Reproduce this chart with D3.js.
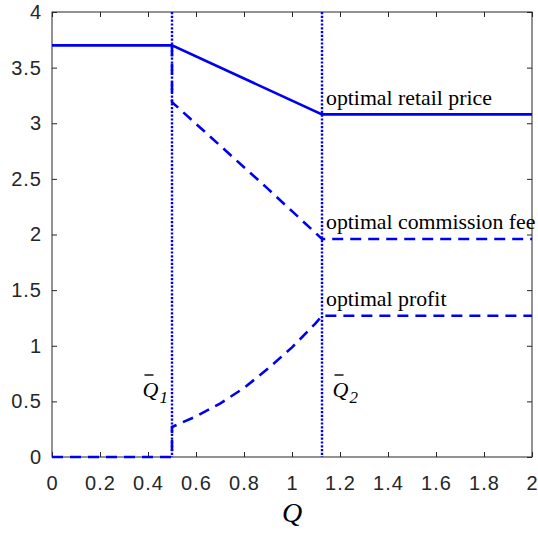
<!DOCTYPE html>
<html>
<head>
<meta charset="utf-8">
<script src="https://cdn.jsdelivr.net/npm/d3@7"></script>
<style>
  html, body { margin: 0; padding: 0; background: #fff; }
  svg { display: block; }
</style>
</head>
<body>
<svg id="chart" width="538" height="539"></svg>
<script>
// Optimal decisions as a function of the capacity Q
const retailQ     = [0, 0.5, 1.125, 2];
const retailPrice = [3.7, 3.7, 3.08, 3.08];

const commissionQ   = [0.5, 0.5, 0.6, 0.7, 0.8, 0.9, 1.0, 1.1, 1.125, 2];
const commissionFee = [3.7, 3.19, 2.995, 2.80, 2.605, 2.41, 2.21, 2.01, 1.96, 1.96];

const profitQ   = [0, 0.5, 0.5, 0.6, 0.7, 0.8, 0.9, 1.0, 1.1, 1.125, 2];
const profitVal = [0, 0, 0.27, 0.365, 0.48, 0.62, 0.795, 0.985, 1.205, 1.27, 1.27];

// Threshold capacities
const thresholds = [0.5, 1.125];
const thresholdSubs = ["1", "2"];

const xTicks = [0, 0.2, 0.4, 0.6, 0.8, 1, 1.2, 1.4, 1.6, 1.8, 2];
const yTicks = [0, 0.5, 1, 1.5, 2, 2.5, 3, 3.5, 4];

const curveLabels = ["optimal retail price", "optimal commission fee", "optimal profit"];
const curveLabelY = [3.08, 1.96, 1.27];

const svg = d3.select("#chart");
const W = 538, H = 539;
const m = { left: 52, right: 6, top: 12, bottom: 82 };

svg.append("rect").attr("width", W).attr("height", H).attr("fill", "#fff");

const x = d3.scaleLinear().domain([0, 2]).range([m.left, W - m.right]);
const y = d3.scaleLinear().domain([0, 4]).range([H - m.bottom, m.top]);

const axisColor = "#262626";
const tickFont = "'Liberation Sans', Arial, Helvetica, sans-serif";
const serif = "'Liberation Serif', 'Times New Roman', Times, serif";

function styleAxis(g, showLabels) {
  g.select(".domain").remove();
  g.selectAll(".tick line").attr("stroke", axisColor).attr("stroke-width", 1);
  g.selectAll(".tick text")
    .attr("fill", axisColor)
    .style("font-family", tickFont)
    .style("font-size", "20px")
    .style("letter-spacing", "1px");
  if (!showLabels) g.selectAll(".tick text").remove();
}

// bottom axis
svg.append("g")
  .attr("transform", `translate(0,${y(0)})`)
  .call(d3.axisBottom(x).tickValues(xTicks).tickFormat(d => String(d))
    .tickSizeInner(-5).tickSizeOuter(0).tickPadding(19))
  .call(g => styleAxis(g, true));

// top axis (ticks only)
svg.append("g")
  .attr("transform", `translate(0,${y(4)})`)
  .call(d3.axisTop(x).tickValues(xTicks).tickSizeInner(-5).tickSizeOuter(0))
  .call(g => styleAxis(g, false));

// left axis
svg.append("g")
  .attr("transform", `translate(${x(0)},0)`)
  .call(d3.axisLeft(y).tickValues(yTicks).tickFormat(d => String(d))
    .tickSizeInner(-5).tickSizeOuter(0).tickPadding(10))
  .call(g => styleAxis(g, true));

// right axis (ticks only)
svg.append("g")
  .attr("transform", `translate(${x(2)},0)`)
  .call(d3.axisRight(y).tickValues(yTicks).tickSizeInner(-5).tickSizeOuter(0))
  .call(g => styleAxis(g, false));

// frame
svg.append("rect")
  .attr("x", x(0)).attr("y", y(4))
  .attr("width", x(2) - x(0)).attr("height", y(0) - y(4))
  .attr("fill", "none").attr("stroke", axisColor).attr("stroke-width", 1);

const blue = "#0000f0";
const line = d3.line().x(d => x(d[0])).y(d => y(d[1]));

// threshold lines
svg.append("g").selectAll("line")
  .data(thresholds)
  .join("line")
  .attr("x1", d => x(d)).attr("x2", d => x(d))
  .attr("y1", y(4)).attr("y2", y(0))
  .attr("stroke", blue).attr("stroke-width", 2.4)
  .attr("stroke-dasharray", "2.2 1.6");

// commission fee (dashed)
svg.append("path")
  .datum(d3.zip(commissionQ, commissionFee))
  .attr("d", line)
  .attr("fill", "none").attr("stroke", blue).attr("stroke-width", 2.6)
  .attr("stroke-dasharray", "11 7");

// profit (dashed)
svg.append("path")
  .datum(d3.zip(profitQ, profitVal))
  .attr("d", line)
  .attr("fill", "none").attr("stroke", blue).attr("stroke-width", 2.6)
  .attr("stroke-dasharray", "11 7");

// retail price (solid)
svg.append("path")
  .datum(d3.zip(retailQ, retailPrice))
  .attr("d", line)
  .attr("fill", "none").attr("stroke", blue).attr("stroke-width", 2.6);

// curve labels
svg.append("g").selectAll("text")
  .data(curveLabels)
  .join("text")
  .attr("x", x(thresholds[1]) + 4)
  .attr("y", (d, i) => y(curveLabelY[i]) - 9.5)
  .attr("fill", "#000")
  .style("font-family", serif)
  .style("font-size", "21.8px")
  .text(d => d);

// threshold labels: Q with overbar and subscript
const tl = svg.append("g").selectAll("g")
  .data(thresholds)
  .join("g")
  .attr("transform", (d, i) => `translate(${i === 0 ? x(d) - 29.5 : x(d) + 10.5},397)`);

tl.append("text")
  .attr("x", 0).attr("y", 0)
  .attr("fill", "#000")
  .style("font-family", serif)
  .style("font-style", "italic")
  .style("font-size", "22px")
  .text("Q")
  .append("tspan")
  .attr("dx", 1).attr("dy", 6)
  .style("font-size", "17px")
  .text((d, i) => thresholdSubs[i]);

tl.append("line")
  .attr("x1", 2).attr("x2", 11)
  .attr("y1", -22).attr("y2", -22)
  .attr("stroke", "#000").attr("stroke-width", 1.4);

// x-axis title
svg.append("text")
  .attr("x", (x(0) + x(2)) / 2)
  .attr("y", 522)
  .attr("text-anchor", "middle")
  .attr("fill", "#000")
  .style("font-family", serif)
  .style("font-style", "italic")
  .style("font-size", "28px")
  .text("Q");
</script>
</body>
</html>
